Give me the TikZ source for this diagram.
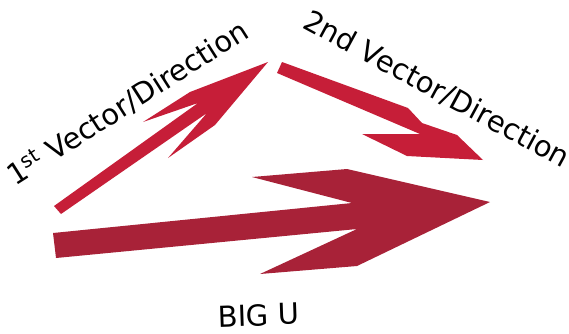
\documentclass[tikz,border=0pt]{standalone}
\usepackage{fontspec}
\setmainfont{DejaVu Sans}
\usepackage{tikz}
\usetikzlibrary{positioning}
\definecolor{vecred}{RGB}{198,30,56}
\definecolor{bigred}{RGB}{168,34,56}

\tikzset{
	vecarrow/.style={fill=vecred, draw=none},
	bigarrow/.style={fill=bigred, draw=none},
	vlabel/.style={font=\fontsize{29}{33}\selectfont, inner sep=0pt, anchor=base west}
}

\begin{document}
\begin{tikzpicture}[x=1pt, y=-1pt]
		\useasboundingbox (0,0) rectangle (569,333);
		
		\fill[vecarrow] (61,214) -- (54,206) -- (198,103) -- (143,122) -- (190,92) -- (268,62) -- (215,125) -- (168,158) -- (207,113) -- cycle;
		\fill[vecarrow] (282,62) -- (408,108) -- (422,123) -- (457,135) -- (483,160) -- (407,156) -- (362,134) -- (420,134) -- (277,73) -- cycle;
		\fill[bigarrow] (53,233) -- (352,203) -- (252,177) -- (347,169) -- (490,202) -- (357,266) -- (260,274) -- (357,229) -- (56,258) -- cycle;
		
		\node[vlabel, rotate=32.5] (first) at (15,187) {1\textsuperscript{st} Vector/Direction};
		\node[vlabel, rotate=-28.4] (second) at (301,27) {2nd Vector/Direction};
		\node[vlabel, rotate=2] (bigu) at (218,327) {BIG U};
		
	\end{tikzpicture}
\end{document}
